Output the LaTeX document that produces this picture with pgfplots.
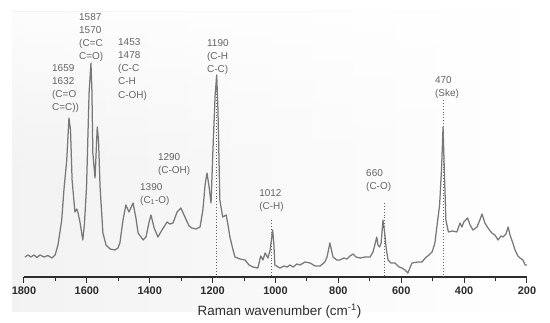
\documentclass[border=0pt]{standalone}
\usepackage{pgfplots}
\pgfplotsset{compat=1.18}
\usepackage{fontspec}
\setmainfont{Liberation Sans}
\definecolor{curve}{RGB}{120,120,120}
\definecolor{lbl}{RGB}{100,100,100}
\definecolor{axc}{RGB}{45,45,45}
\tikzset{lblstyle/.style={text=lbl, font=\fontsize{10}{13.3}\selectfont, align=left, inner sep=0pt, anchor=north west}}
\begin{document}
\begin{tikzpicture}
\path[use as bounding box] (0,0) rectangle (550bp,323bp);
\shade[left color=gray!10, middle color=gray!26, right color=white] (12bp,11bp) rectangle (540bp,311bp);
\foreach \i in {0,...,19} {
  \pgfmathsetmacro{\op}{0.8*(1-\i/20)}
  \pgfmathsetmacro{\ya}{311-\i*8}
  \pgfmathsetmacro{\yb}{311-(\i+1)*8}
  \fill[white, fill opacity=\op] (12bp,\ya bp) rectangle (540bp,\yb bp);
}
\begin{axis}[
  at={(24bp,46bp)}, anchor=south west,
  scale only axis, width=503bp, height=265bp,
  xmin=200, xmax=1800, ymin=0, ymax=265, x dir=reverse,
  axis x line*=bottom, axis y line=none,
  xtick={200,400,...,1800}, minor x tick num=1,
  tick align=outside, major tick length=6bp, minor tick length=4bp,
  x axis line style={axc, line width=1.1bp},
  every tick/.style={axc, line width=1bp},
  /pgf/number format/1000 sep={},
  /pgf/number format/assume math mode=true,
  xticklabel style={font=\fontsize{11}{12}\selectfont\bfseries, text=axc},
  xlabel={Raman wavenumber (cm\textsuperscript{-1})},
  xlabel style={font=\fontsize{13.5}{15}\selectfont, text=axc, xshift=4bp, yshift=-3bp},
  clip=false,
]
\addplot[lbl, dotted, line width=0.9bp] coordinates {(1188,200) (1188,0)};
\addplot[lbl, dotted, line width=0.9bp] coordinates {(1012,57) (1012,0)};
\addplot[lbl, dotted, line width=0.9bp] coordinates {(652,74) (652,0)};
\addplot[lbl, dotted, line width=0.9bp] coordinates {(467,177) (467,0)};
\addplot[curve, line width=1.25bp, no marks, sharp plot, line join=round] coordinates {
(1797,20) (1787,22) (1778,20) (1768,22) (1759,19.5) (1749,22) (1736,20) (1724,21.5) (1711,19) (1701,22)
(1692,32) (1680,57) (1673,87) (1664,117) (1657,159) (1652,147) (1647,97) (1638,65) (1632,68) (1628,64)
(1622,55) (1613,37) (1608,52) (1601,90) (1593,184) (1587,214) (1584,187) (1581,124) (1574,99) (1567,150)
(1563,137) (1558,90) (1549,44) (1539,32) (1526,28) (1511,27) (1501,29) (1495,34) (1485,57) (1476,72)
(1466,65) (1453,74) (1444,59) (1437,44) (1421,37) (1412,40) (1402,55) (1396,62) (1386,49) (1374,40)
(1361,47) (1345,55) (1336,53) (1326,54) (1313,65) (1301,69) (1288,60) (1275,51) (1266,49) (1253,48)
(1240,50) (1231,67) (1224,92) (1218,104) (1212,92) (1205,74) (1199,127) (1192,182) (1187,202) (1183,167)
(1177,77) (1168,60) (1157,62) (1151,52) (1145,40) (1135,27) (1129,20) (1113,18) (1097,17) (1084,12)
(1072,10) (1056,9) (1047,21) (1040,17) (1033,24) (1024,19) (1017,27) (1009,47) (1005,32) (1002,12)
(986,9) (973,11) (963,10) (954,12) (944,10) (932,13) (922,12) (906,15) (890,14) (874,11)
(858,11) (843,15) (836,20) (827,34) (817,20) (805,17) (795,17) (782,19) (773,18) (763,21)
(753,23) (744,20) (731,19) (715,20) (699,20) (690,25) (684,32) (678,40) (674,32) (669,30)
(664,34) (658,57) (653,45) (648,29) (642,17) (633,14) (620,14) (607,10) (598,9) (588,7)
(579,4) (566,14) (547,15) (534,15) (524,19) (512,22) (502,25) (493,34) (484,57) (478,72)
(472,107) (467,150) (463,107) (458,57) (450,45) (437,46) (423,45) (413,54) (407,50) (401,55)
(389,59) (381,52) (372,47) (359,50) (350,57) (343,63) (334,54) (324,49) (312,44) (302,42)
(292,37) (283,41) (276,40) (267,43) (260,50) (254,42) (245,34) (238,27) (229,21) (222,19)
(213,17) (206,12) (200,12)
};
\node[lblstyle] at (axis cs:1625,264) {1587\\1570\\(C=C\\C=O)};
\node[lblstyle] at (axis cs:1711,213) {1659\\1632\\(C=O\\C=C))};
\node[lblstyle] at (axis cs:1501,239) {1453\\1478\\(C-C\\C-H\\C-OH)};
\node[lblstyle] at (axis cs:1218,238) {1190\\(C-H\\C-C)};
\node[lblstyle] at (axis cs:1374,124) {1290\\(C-OH)};
\node[lblstyle] at (axis cs:1431,94) {1390\\(C\textsubscript{1}-O)};
\node[lblstyle] at (axis cs:1052,88) {1012\\(C-H)};
\node[lblstyle] at (axis cs:712,108) {660\\(C-O)};
\node[lblstyle] at (axis cs:493,201) {470\\(Ske)};
\end{axis}
\end{tikzpicture}
\end{document}
